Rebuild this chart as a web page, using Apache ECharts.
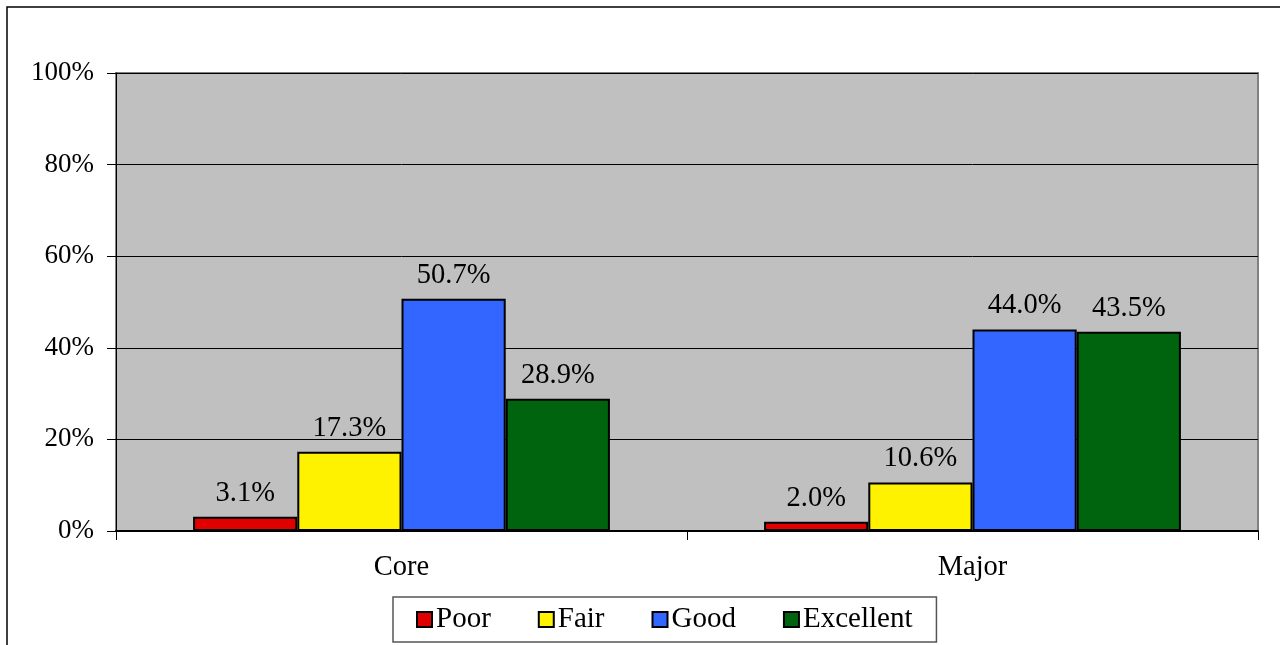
<!DOCTYPE html>
<html>
<head>
<meta charset="utf-8">
<script src="https://cdn.jsdelivr.net/npm/echarts@6/dist/echarts.min.js"></script>
<style>
  html, body { margin: 0; padding: 0; background: #fff; }
  #container { width: 1280px; height: 645px; }
</style>
</head>
<body>
<div id="container"></div>
<script>
// data
var categories = ['Core', 'Major'];
var poor = [3.1, 2.0];
var fair = [17.3, 10.6];
var good = [50.7, 44.0];
var excellent = [28.9, 43.5];
var seriesNames = ['Poor', 'Fair', 'Good', 'Excellent'];
var seriesColors = ['#E00000', '#FFF200', '#3366FF', '#00640F'];

var font = '"Liberation Serif", "Times New Roman", serif';

function makeBar(name, values, color) {
  return {
    name: name,
    type: 'bar',
    data: values,
    barGap: '0%',
    barCategoryGap: '27%',
    itemStyle: { color: color, borderColor: '#000', borderWidth: 2 },
    label: {
      show: true,
      position: 'top',
      distance: 9,
      color: '#000',
      fontFamily: font,
      fontSize: 28.5,
      formatter: function (p) { return p.value.toFixed(1) + '%'; }
    }
  };
}

var option = {
  animation: false,
  backgroundColor: '#fff',
  textStyle: { fontFamily: font },
  graphic: [{
    type: 'rect',
    shape: { x: 7, y: 7, width: 1300, height: 700 },
    style: { fill: 'none', stroke: '#000', lineWidth: 1.5 },
    z: -1
  }],
  grid: {
    left: 116, right: 22, top: 73, bottom: 114,
    show: true,
    backgroundColor: '#C0C0C0',
    borderColor: '#808080',
    borderWidth: 2
  },
  legend: {
    data: seriesNames,
    left: 393,
    top: 597,
    padding: [8, 24, 8, 23],
    itemGap: 47,
    itemWidth: 15,
    itemHeight: 15,
    borderColor: '#555',
    borderWidth: 1.5,
    icon: 'rect',
    itemStyle: { borderColor: '#000', borderWidth: 2 },
    textStyle: { color: '#000', fontFamily: font, fontSize: 29, padding: [0, 0, 0, -1] }
  },
  xAxis: {
    type: 'category',
    data: categories,
    axisLine: { lineStyle: { color: '#000', width: 2 } },
    axisTick: { show: true, length: 9, lineStyle: { color: '#000' } },
    axisLabel: { color: '#000', fontFamily: font, fontSize: 28.5, margin: 22 }
  },
  yAxis: {
    type: 'value',
    min: 0,
    max: 100,
    interval: 20,
    axisLine: { show: true, lineStyle: { color: '#000', width: 1 } },
    axisTick: { show: true, length: 9, lineStyle: { color: '#000' } },
    axisLabel: {
      color: '#000', fontFamily: font, fontSize: 27, margin: 22,
      formatter: '{value}%'
    },
    splitLine: { show: true, lineStyle: { color: '#000', width: 1 } }
  },
  series: [
    makeBar(seriesNames[0], poor, seriesColors[0]),
    makeBar(seriesNames[1], fair, seriesColors[1]),
    makeBar(seriesNames[2], good, seriesColors[2]),
    makeBar(seriesNames[3], excellent, seriesColors[3])
  ]
};

var myChart = echarts.init(document.getElementById('container'));
myChart.setOption(option);
</script>
</body>
</html>
